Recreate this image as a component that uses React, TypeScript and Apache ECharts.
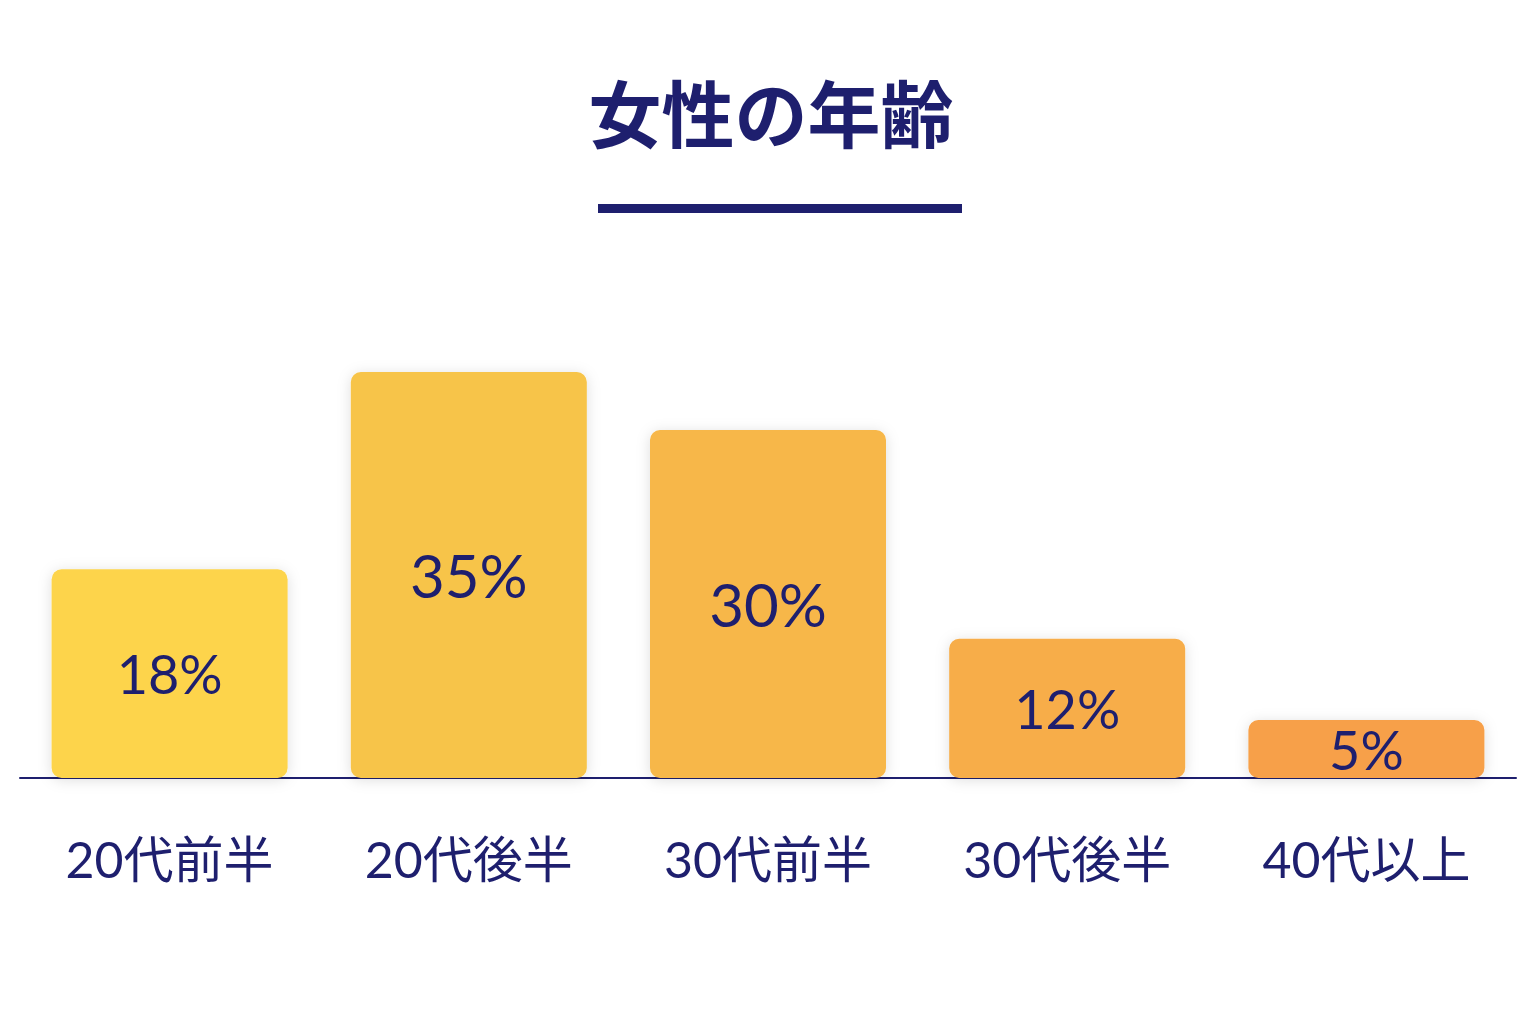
import { FC, useEffect, useRef } from "react";
import * as echarts from "echarts";

// 年齢層と割合
const categories = ["20代前半", "20代後半", "30代前半", "30代後半", "40代以上"];
const values = [18, 35, 30, 12, 5];
const barColors = ["#FDD44B", "#F7C44A", "#F7B749", "#F7AD48", "#F7A048"];
const labelSizes = [54, 60, 60, 54, 54];
const titleText = "女性の年齢";

const NAVY = "#1E1F6E";

const App: FC = () => {
  const chartRef = useRef<HTMLDivElement>(null);

  useEffect(() => {
    if (!chartRef.current) return;
    const chart = echarts.init(chartRef.current, undefined, { renderer: "svg" });

    const option = {
      animation: false,
      backgroundColor: "#ffffff",
      grid: { left: 20, right: 20, top: 314, bottom: 238, containLabel: false },
      graphic: [
        {
          type: "text",
          x: 771,
          y: 110,
          style: {
            text: titleText,
            fontSize: 73,
            fontWeight: "bold",
            fontFamily: "'Noto Sans CJK JP', sans-serif",
            fill: NAVY,
            align: "center",
            verticalAlign: "middle",
          },
        },
        {
          type: "rect",
          shape: { x: 598, y: 204, width: 364, height: 9 },
          style: { fill: NAVY },
        },
      ],
      xAxis: {
        type: "category",
        data: categories,
        axisLine: { lineStyle: { color: NAVY, width: 2 } },
        axisTick: { show: false },
        axisLabel: {
          margin: 56,
          fontSize: 50,
          color: NAVY,
          fontFamily: "Lato, 'Noto Sans CJK JP', sans-serif",
        },
        z: 1,
      },
      yAxis: {
        type: "value",
        min: 0,
        max: 40,
        show: false,
        splitLine: { show: false },
      },
      series: [
        {
          type: "bar",
          barWidth: 236,
          z: 3,
          data: values.map((v, i) => ({
            value: v,
            itemStyle: { color: barColors[i] },
            label: { fontSize: labelSizes[i] },
          })),
          itemStyle: {
            borderRadius: 10,
            shadowBlur: 14,
            shadowColor: "rgba(0, 0, 0, 0.13)",
            shadowOffsetY: 2,
          },
          label: {
            show: true,
            position: "inside",
            formatter: "{c}%",
            fontSize: 54,
            color: NAVY,
            fontFamily: "Lato, 'Noto Sans', sans-serif",
          },
        },
      ],
    };

    chart.setOption(option);
    return () => {
      chart.dispose();
    };
  }, []);

  return (
    <div
      ref={chartRef}
      style={{ position: "fixed", left: 0, top: 0, width: 1536, height: 1016 }}
    />
  );
};

export default App;
